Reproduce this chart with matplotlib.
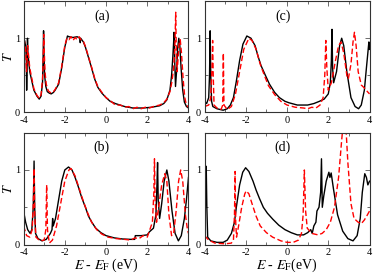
import matplotlib
matplotlib.use('Agg')
import matplotlib.pyplot as plt
from matplotlib.ticker import MultipleLocator

plt.rcParams['font.family'] = ['Liberation Serif', 'DejaVu Serif']
plt.rcParams['mathtext.fontset'] = 'stix'

# panel (a)
a_x_black = [-4.0, -3.95, -3.9, -3.87, -3.85, -3.83, -3.81, -3.79, -3.7, -3.5, -3.35, -3.24, -3.15, -3.08,
             -3.05, -3.03, -3.01, -2.98, -2.92, -2.85, -2.75, -2.66, -2.55, -2.47, -2.3, -2.15, -2.0, -1.87,
             -1.8, -1.6, -1.4, -1.27, -1.25, -1.23, -1.1, -1.0, -0.85, -0.7, -0.55, -0.4, -0.2, 0.0, 0.2,
             0.45, 0.9, 1.3, 1.8, 2.2, 2.6, 2.8, 2.95, 3.1, 3.18, 3.24, 3.28, 3.3, 3.33, 3.37, 3.42, 3.47,
             3.53, 3.58, 3.64, 3.72, 3.8, 3.9, 4.0]
a_y_black = [1.0, 0.97, 0.9, 0.75, 0.3, 0.6, 1.0, 0.8, 0.55, 0.3, 0.22, 0.18, 0.22, 0.4,
             0.75, 1.1, 0.8, 0.5, 0.35, 0.28, 0.26, 0.25, 0.27, 0.3, 0.38, 0.6, 0.88, 1.03,
             1.02, 1.01, 1.02, 1.0, 0.94, 1.0, 0.95, 0.88, 0.74, 0.6, 0.45, 0.34, 0.26, 0.2, 0.15,
             0.12, 0.08, 0.06, 0.06, 0.07, 0.09, 0.12, 0.17, 0.3, 0.5, 0.75, 0.95, 1.08, 0.7, 0.35, 0.55, 0.85,
             1.0, 0.9, 0.6, 0.3, 0.14, 0.08, 0.06]
a_x_red = [-4.0, -3.95, -3.9, -3.86, -3.83, -3.8, -3.7, -3.5, -3.35, -3.24, -3.15, -3.08, -3.04, -3.02,
           -3.0, -2.96, -2.9, -2.8, -2.66, -2.55, -2.47, -2.3, -2.15, -2.0, -1.9, -1.8, -1.7, -1.6, -1.5,
           -1.4, -1.3, -1.2, -1.1, -1.0, -0.85, -0.7, -0.55, -0.4, -0.2, 0.0, 0.2, 0.45, 0.7, 0.9, 1.1,
           1.3, 1.5, 1.7, 1.9, 2.1, 2.3, 2.6, 2.8, 2.95, 3.1, 3.2, 3.28, 3.34, 3.38, 3.41, 3.45, 3.5, 3.55,
           3.6, 3.66, 3.74, 3.82, 3.9, 4.0]
a_y_red = [1.0, 0.95, 0.85, 0.55, 0.7, 0.9, 0.6, 0.32, 0.23, 0.19, 0.24, 0.45, 0.8, 1.05,
           0.85, 0.55, 0.38, 0.29, 0.26, 0.28, 0.31, 0.4, 0.62, 0.9, 1.0, 0.98, 1.02, 0.97, 1.01,
           0.98, 1.02, 0.97, 0.96, 0.89, 0.75, 0.61, 0.46, 0.35, 0.27, 0.2, 0.16, 0.1, 0.1, 0.07, 0.08,
           0.05, 0.07, 0.05, 0.07, 0.06, 0.08, 0.1, 0.13, 0.18, 0.28, 0.42, 0.6, 0.9, 1.35, 0.8, 0.55, 0.75, 0.95,
           0.98, 0.8, 0.45, 0.2, 0.1, 0.07]

# panel (b)
b_x_black = [-4.0, -3.9, -3.8, -3.68, -3.6, -3.53, -3.49, -3.46, -3.42, -3.3, -3.1, -2.9, -2.7, -2.62,
             -2.59, -2.56, -2.45, -2.3, -2.15, -2.0, -1.82, -1.65, -1.5, -1.35, -1.18, -1.0, -0.85, -0.69,
             -0.5, -0.25, 0.0, 0.4, 0.8, 1.2, 1.39, 1.42, 1.7, 2.0, 2.1, 2.3, 2.42, 2.47, 2.5, 2.53, 2.6,
             2.7, 2.82, 2.95, 3.05, 3.2, 3.35, 3.51, 3.65, 3.8, 3.9, 4.0]
b_y_black = [0.45, 0.3, 0.2, 0.15, 0.2, 0.5, 1.12, 0.5, 0.15, 0.08, 0.05, 0.07, 0.15, 0.2,
             0.35, 0.25, 0.35, 0.6, 0.85, 1.0, 1.04, 1.0, 0.9, 0.78, 0.63, 0.5, 0.38, 0.3,
             0.22, 0.16, 0.12, 0.09, 0.075, 0.07, 0.07, 0.12, 0.12, 0.13, 0.17, 0.22, 0.4, 0.8, 1.1, 0.6, 0.35,
             0.55, 0.85, 1.0, 0.85, 0.45, 0.15, 0.05, 0.12, 0.35, 0.6, 0.9]
b_x_red = [-4.0, -3.85, -3.7, -3.58, -3.52, -3.49, -3.46, -3.4, -3.2, -3.0, -2.92, -2.88, -2.84, -2.75,
           -2.6, -2.4, -2.2, -2.0, -1.8, -1.7, -1.5, -1.3, -1.1, -0.9, -0.7, -0.45, -0.2, 0.1, 0.5, 0.9,
           1.2, 1.4, 1.6, 1.8, 2.0, 2.1, 2.25, 2.32, 2.35, 2.38, 2.45, 2.55, 2.7, 2.85, 2.95, 3.05, 3.18,
           3.28, 3.4, 3.52, 3.62, 3.72, 3.85, 3.95, 4.0]
b_y_red = [0.25, 0.12, 0.1, 0.2, 0.6, 1.02, 0.4, 0.1, 0.05, 0.06, 0.2, 0.8, 0.2, 0.02,
           0.06, 0.25, 0.55, 0.85, 1.0, 1.02, 0.92, 0.75, 0.58, 0.43, 0.3, 0.2, 0.14, 0.1, 0.08, 0.07,
           0.06, 0.09, 0.08, 0.12, 0.1, 0.18, 0.3, 0.7, 1.15, 0.6, 0.3, 0.5, 0.8, 0.95, 0.85, 0.4, 0.12,
           0.15, 0.45, 0.85, 1.0, 0.85, 0.4, 0.2, 0.15]

# panel (c)
c_x_black = [-4.0, -3.9, -3.8, -3.76, -3.73, -3.7, -3.66, -3.6, -3.4, -3.1, -2.9, -2.75, -2.6, -2.46,
             -2.3, -2.14, -1.95, -1.75, -1.55, -1.4, -1.26, -1.05, -0.85, -0.6, -0.37, -0.1, 0.1, 0.5,
             1.0, 1.3, 1.57, 1.8, 2.0, 2.1, 2.15, 2.18, 2.21, 2.26, 2.4, 2.55, 2.65, 2.75, 2.9, 3.1, 3.3,
             3.47, 3.6, 3.75, 3.85, 3.97, 4.0]
c_y_black = [0.15, 0.12, 0.2, 0.5, 1.1, 0.5, 0.15, 0.08, 0.05, 0.03, 0.05, 0.1, 0.2, 0.42,
             0.7, 0.92, 1.03, 1.0, 0.9, 0.75, 0.63, 0.5, 0.38, 0.27, 0.2, 0.15, 0.13, 0.1,
             0.1, 0.12, 0.15, 0.18, 0.25, 0.4, 0.7, 1.12, 0.6, 0.4, 0.55, 0.9, 1.0, 0.9, 0.55, 0.2, 0.08,
             0.05, 0.1, 0.3, 0.6, 0.95, 0.85]
c_x_red = [-4.0, -3.8, -3.7, -3.64, -3.61, -3.58, -3.54, -3.4, -3.2, -3.12, -3.09, -3.06, -2.9, -2.7,
           -2.5, -2.3, -2.1, -1.85, -1.7, -1.5, -1.3, -1.1, -0.9, -0.6, -0.3, 0.0, 0.4, 0.8, 1.0, 1.2,
           1.4, 1.6, 1.75, 1.83, 1.88, 1.93, 2.0, 2.15, 2.35, 2.5, 2.62, 2.75, 2.9, 2.97, 3.1, 3.2, 3.27,
           3.35, 3.45, 3.6, 3.75, 3.9, 4.0]
c_y_red = [0.08, 0.1, 0.2, 0.6, 0.97, 0.5, 0.1, 0.06, 0.04, 0.1, 0.8, 0.1, 0.04, 0.08,
           0.25, 0.55, 0.85, 1.0, 0.97, 0.85, 0.65, 0.5, 0.36, 0.24, 0.15, 0.1, 0.07, 0.06, 0.05, 0.07,
           0.06, 0.1, 0.2, 0.5, 0.97, 0.6, 0.3, 0.4, 0.7, 0.9, 0.95, 0.8, 0.5, 0.45, 0.65, 0.95, 1.08,
           0.9, 0.55, 0.37, 0.33, 0.28, 0.25]

# panel (d)
d_x_black = [-4.0, -3.95, -3.92, -3.89, -3.85, -3.7, -3.4, -3.1, -2.9, -2.7, -2.55, -2.46, -2.3, -2.15,
             -2.01, -1.85, -1.65, -1.5, -1.34, -1.15, -0.95, -0.69, -0.4, -0.1, 0.2, 0.5, 0.8, 1.0, 1.15,
             1.22, 1.3, 1.4, 1.45, 1.55, 1.63, 1.67, 1.71, 1.78, 1.9, 2.03, 2.08, 2.14, 2.25, 2.45, 2.7,
             2.95, 3.2, 3.4, 3.55, 3.65, 3.77, 3.85, 3.92, 4.0]
d_y_black = [0.2, 0.6, 1.05, 0.5, 0.1, 0.05, 0.03, 0.03, 0.06, 0.15, 0.3, 0.5, 0.8, 0.97,
             1.03, 0.98, 0.85, 0.73, 0.62, 0.5, 0.42, 0.34, 0.26, 0.2, 0.16, 0.13, 0.13, 0.16, 0.2,
             0.15, 0.25, 0.3, 0.45, 0.5, 0.7, 1.15, 0.5, 0.65, 0.85, 0.97, 0.9, 0.96, 0.75, 0.4, 0.18,
             0.08, 0.05, 0.12, 0.35, 0.7, 0.95, 0.9, 0.8, 0.85]
d_x_red = [-4.0, -3.8, -3.5, -3.0, -2.7, -2.6, -2.55, -2.52, -2.49, -2.45, -2.35, -2.2, -2.05, -1.98,
           -1.85, -1.7, -1.5, -1.3, -1.0, -0.7, -0.3, 0.0, 0.3, 0.55, 0.7, 0.78, 0.84, 0.9, 0.98, 1.2,
           1.5, 1.7, 1.9, 2.1, 2.3, 2.5, 2.65, 2.75, 2.85, 2.95, 3.1, 3.25, 3.45, 3.6, 3.75, 3.9, 4.0]
d_y_red = [0.12, 0.06, 0.02, 0.01, 0.02, 0.06, 0.4, 0.98, 0.3, 0.1, 0.25, 0.5, 0.68, 0.72,
           0.68, 0.55, 0.38, 0.25, 0.16, 0.1, 0.05, 0.03, 0.03, 0.06, 0.15, 0.4, 1.0, 0.45, 0.22, 0.15,
           0.13, 0.15, 0.2, 0.3, 0.5, 0.9, 1.4, 1.7, 1.6, 1.1, 0.55, 0.35, 0.3, 0.28, 0.33, 0.4, 0.45]

panel_labels = ['(a)', '(b)', '(c)', '(d)']
x_ticks = [-4, -2, 0, 2, 4]
y_ticks = [0, 1]


def style_axis(ax):
    ax.set_xlim(-4, 4)
    ax.set_ylim(0, 1.5)
    ax.set_xticks(x_ticks)
    ax.set_xticklabels(['-4', '-2', '0', '2', '4'])
    ax.set_yticks(y_ticks)
    ax.xaxis.set_minor_locator(MultipleLocator(1))
    ax.yaxis.set_minor_locator(MultipleLocator(0.5))
    ax.tick_params(which='both', direction='in', top=True, right=True,
                   labelsize=7.5, width=0.6, color='#555555')
    ax.tick_params(axis='x', which='both', pad=2.5)
    ax.tick_params(axis='y', which='both', pad=2.5)
    ax.tick_params(which='major', length=3.5)
    ax.tick_params(which='minor', length=2.5)
    for sp in ax.spines.values():
        sp.set_linewidth(0.8)
        sp.set_color('#333333')


fig = plt.figure(figsize=(3.74, 2.77), dpi=100)
w = 0.441
positions = {
    'a': [0.063, 0.594, w, 0.402],
    'c': [0.547, 0.594, w, 0.402],
    'b': [0.063, 0.117, w, 0.404],
    'd': [0.547, 0.117, w, 0.404],
}
data = {
    'a': (a_x_black, a_y_black, a_x_red, a_y_red),
    'b': (b_x_black, b_y_black, b_x_red, b_y_red),
    'c': (c_x_black, c_y_black, c_x_red, c_y_red),
    'd': (d_x_black, d_y_black, d_x_red, d_y_red),
}

for key in ['a', 'b', 'c', 'd']:
    ax = fig.add_axes(positions[key])
    xb, yb, xr, yr = data[key]
    ax.plot(xb, yb, color='black', lw=1.0)
    ax.plot(xr, yr, color='red', lw=1.0, ls=(0, (4, 2)))
    style_axis(ax)
    ax.text(-0.2, 1.3, '(' + key + ')', ha='center', va='center', fontsize=10)
    if key in ('a', 'b'):
        ax.set_ylabel('$T$', fontsize=10, labelpad=0)
    if key == 'b':
        ax.set_xlabel(r'$E$ - $E_{\rm F}$ (eV)', fontsize=10, labelpad=0)
    if key == 'd':
        ax.set_xlabel(r'$E$ - $E_{\rm F}$(eV)', fontsize=10, labelpad=0)

fig.savefig('out.png', dpi=100)
